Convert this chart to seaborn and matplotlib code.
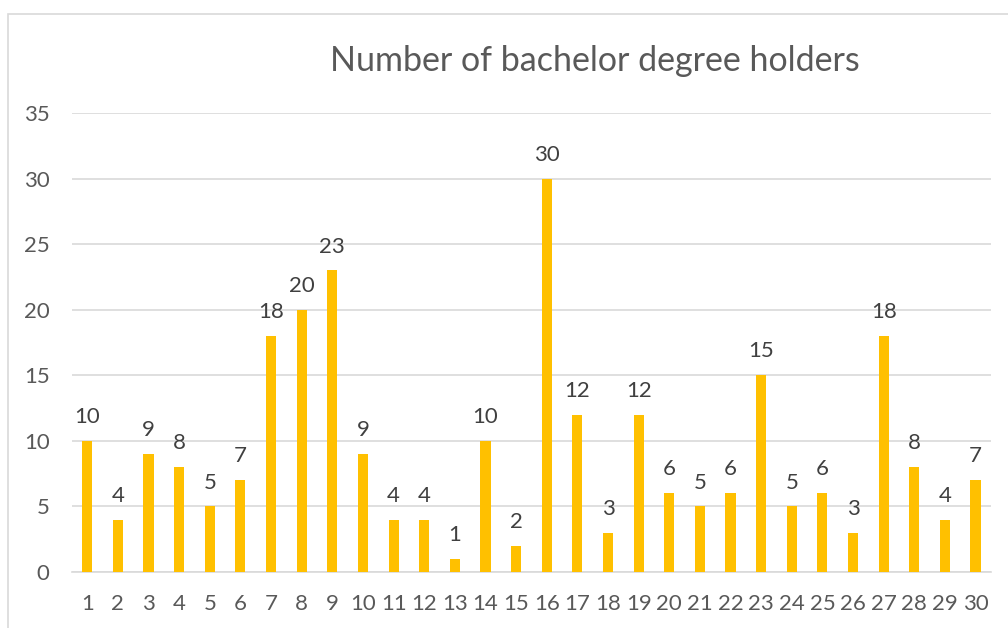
import matplotlib
matplotlib.use("Agg")
import matplotlib.pyplot as plt
import seaborn as sns
import pandas as pd
from matplotlib.patches import Rectangle

groups = [str(i) for i in range(1, 31)]
holders = [10, 4, 9, 8, 5, 7, 18, 20, 23, 9, 4, 4, 1, 10, 2,
           30, 12, 3, 12, 6, 5, 6, 15, 5, 6, 3, 18, 8, 4, 7]
yticks = [0, 5, 10, 15, 20, 25, 30, 35]

df = pd.DataFrame({"group": groups, "holders": holders})

sns.set_style("white")
plt.rcParams['font.family'] = ['Lato', 'DejaVu Sans']
text_col = "#595959"

fig = plt.figure(figsize=(10.08, 6.28), dpi=100)
ax = fig.add_axes([0.0714, 0.0892, 0.9116, 0.7308])

sns.barplot(data=df, x="group", y="holders", color="#FFC000", width=0.33,
            saturation=1, linewidth=0, ax=ax, zorder=3)

ax.bar_label(ax.containers[0], padding=10, fontsize=16, color="#404040")

ax.set_ylim(0, 35)
ax.set_yticks(yticks)
ax.set_xlim(-0.5, 29.5)
ax.yaxis.grid(True, color="#D9D9D9", linewidth=1.2, zorder=0)
ax.set_axisbelow(True)
for s in ["top", "right", "left"]:
    ax.spines[s].set_visible(False)
ax.spines["bottom"].set_color("#D9D9D9")
ax.spines["bottom"].set_linewidth(1.2)
ax.tick_params(axis="both", length=0, labelsize=16, labelcolor=text_col)
ax.tick_params(axis="y", pad=16)
ax.tick_params(axis="x", pad=16)
ax.set_xlabel("")
ax.set_ylabel("")

fig.text(0.59, 0.903, "Number of bachelor degree holders", ha="center",
         va="center", fontsize=24.5, color=text_col)

fig.patches.append(Rectangle((8 / 1008, -0.1), 1.2, 1 - 14 / 628 + 0.1,
                             transform=fig.transFigure, fill=False,
                             edgecolor="#D9D9D9", linewidth=1.2))

fig.savefig("out.png", dpi=100)
